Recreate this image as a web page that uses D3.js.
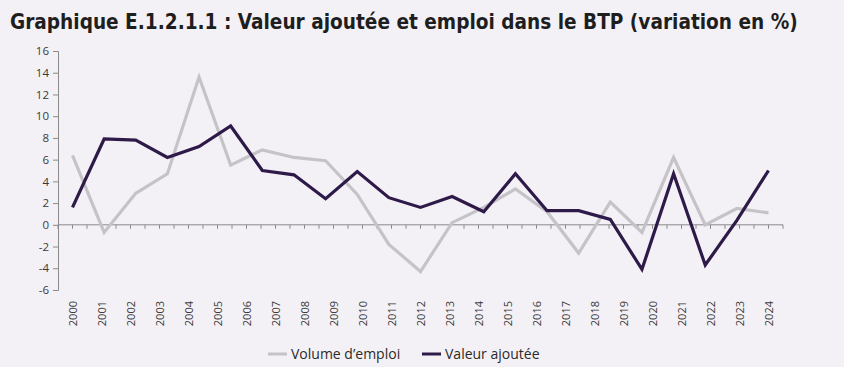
<!DOCTYPE html>
<html>
<head>
<meta charset="utf-8">
<script src="https://cdn.jsdelivr.net/npm/d3@7"></script>
<style>
  html, body { margin: 0; padding: 0; background: #f4f1f6; }
  svg { display: block; }
</style>
</head>
<body>
<div id="chart"></div>
<script>
// Category labels on the x axis
const years = d3.range(2000, 2025).map(String);

// Series as drawn (23 points spread across the labelled span)
const emploi = [6.4, -0.7, 2.9, 4.7, 13.6, 5.5, 6.9, 6.2, 5.9, 2.8, -1.8, -4.3,
    0.2, 1.6, 3.3, 1.2, -2.6, 2.1, -0.7, 6.2, 0.0, 1.5, 1.1];
const valeur = [1.6, 7.9, 7.8, 6.2, 7.2, 9.1, 5.0, 4.6, 2.4, 4.9, 2.5, 1.6,
    2.6, 1.2, 4.7, 1.3, 1.3, 0.5, -4.1, 4.7, -3.7, 0.4, 5.0];

const yTicks = d3.range(-6, 17, 2);

const series = [
    { name: 'Volume d\u2019emploi', values: emploi, color: '#c5c3c8' },
    { name: 'Valeur ajoutée', values: valeur, color: '#2e1a48' }
];

const W = 844, H = 367;
const svg = d3.select('#chart').append('svg')
    .attr('width', W)
    .attr('height', H);

svg.append('rect').attr('width', W).attr('height', H).attr('fill', '#f4f1f6');

// Title, sized to span the same width as the reference
const title = svg.append('text')
    .attr('x', 10)
    .attr('y', 29)
    .attr('font-family', '"DejaVu Sans Condensed", "Liberation Sans Narrow", sans-serif')
    .attr('font-weight', 'bold')
    .attr('font-size', 22)
    .attr('fill', '#1e1e1e')
    .text('Graphique E.1.2.1.1 : Valeur ajoutée et emploi dans le BTP (variation en %)');
const tw = title.node().getComputedTextLength();
if (tw > 0) title.attr('font-size', Math.min(24, 22 * 788 / tw));

const plot = { left: 58, right: 783, top: 51, bottom: 290 };

const x = d3.scaleBand()
    .domain(years)
    .range([plot.left, plot.right]);

const xi = d3.scaleLinear()
    .domain([0, emploi.length - 1])
    .range([x(years[0]) + x.bandwidth() / 2, x(years[years.length - 1]) + x.bandwidth() / 2]);

const y = d3.scaleLinear()
    .domain([-6, 16])
    .range([plot.bottom, plot.top]);

const axisColor = '#8a8a8a';
const labelFont = '"Open Sans", sans-serif';

// Y axis
const yAxis = svg.append('g')
    .attr('transform', `translate(${plot.left},0)`)
    .call(d3.axisLeft(y).tickValues(yTicks).tickSize(5).tickPadding(4).tickFormat(d => String(d)));
yAxis.select('.domain').attr('stroke', axisColor);
yAxis.selectAll('.tick line').attr('stroke', axisColor);
yAxis.selectAll('.tick text')
    .attr('font-family', labelFont)
    .attr('font-size', 11.5)
    .attr('fill', '#3a3a3a');

// X axis at zero, ticks at band edges and centres
const tickPos = [];
years.forEach(yr => {
    tickPos.push(x(yr));
    tickPos.push(x(yr) + x.bandwidth() / 2);
});
tickPos.push(plot.right);

const xAxis = svg.append('g');
xAxis.append('line')
    .attr('x1', plot.left).attr('x2', plot.right)
    .attr('y1', y(0)).attr('y2', y(0))
    .attr('stroke', axisColor);
xAxis.selectAll('.xt').data(tickPos)
    .enter()
    .append('line')
    .attr('class', 'xt')
    .attr('x1', d => d).attr('x2', d => d)
    .attr('y1', y(0)).attr('y2', y(0) + 4)
    .attr('stroke', axisColor);

// Rotated year labels under the plot
svg.append('g').selectAll('text').data(years)
    .enter()
    .append('text')
    .attr('transform', d => `translate(${x(d) + x.bandwidth() / 2 + 4},301) rotate(-90)`)
    .attr('text-anchor', 'end')
    .attr('font-family', labelFont)
    .attr('font-size', 11)
    .attr('fill', '#3a3a3a')
    .text(d => d);

// Lines
const line = d3.line()
    .x((d, i) => xi(i))
    .y(d => y(d));

svg.append('g').selectAll('path').data(series)
    .enter()
    .append('path')
    .attr('d', d => line(d.values))
    .attr('fill', 'none')
    .attr('stroke', d => d.color)
    .attr('stroke-width', 3.2)
    .attr('stroke-linejoin', 'miter');

// Legend
const legend = svg.append('g').attr('transform', 'translate(268,354)');
const legendX = [0, 154];
series.forEach((s, i) => {
    const g = legend.append('g').attr('transform', `translate(${legendX[i]},0)`);
    g.append('line')
        .attr('x1', 0).attr('x2', 19)
        .attr('stroke', s.color)
        .attr('stroke-width', 3);
    g.append('text')
        .attr('x', 23)
        .attr('y', 5)
        .attr('font-family', labelFont)
        .attr('font-size', 14)
        .attr('fill', '#2a2a2a')
        .text(s.name);
});
</script>
</body>
</html>
